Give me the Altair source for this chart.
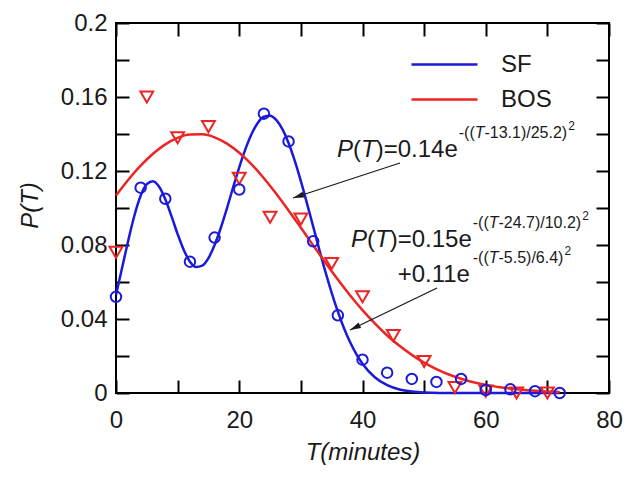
import math
import altair as alt
import pandas as pd

# ---------------- data ----------------
sf_T = [0, 4, 8, 12, 16, 20, 24, 28, 32, 36, 40, 44, 48, 52, 56, 60, 64, 68, 72]
sf_P = [0.052, 0.111, 0.105, 0.071, 0.084, 0.110, 0.151, 0.136, 0.082, 0.042,
        0.018, 0.011, 0.0076, 0.006, 0.0076, 0.0016, 0.002, 0.001, 0.0]

bos_T = [0, 5, 10, 15, 20, 25, 30, 35, 40, 45, 50, 55, 60, 65, 70]
bos_P = [0.076, 0.160, 0.138, 0.144, 0.116, 0.095, 0.094, 0.070, 0.052, 0.031,
         0.017, 0.003, 0.001, 0.0, 0.0]

# fitted curves
sf_fit_T = list(range(0, 41)) + [42, 44, 46, 48, 50, 55, 60, 65, 70, 72]
sf_fit_P = [0.0530, 0.0678, 0.0826, 0.0961, 0.1066, 0.1129, 0.1145, 0.1115, 0.1047, 0.0956,
            0.0859, 0.0773, 0.0710, 0.0681, 0.0688, 0.0729, 0.0800, 0.0892, 0.0998, 0.1111,
            0.1220, 0.1318, 0.1400, 0.1460, 0.1493, 0.1499, 0.1476, 0.1426, 0.1351, 0.1256,
            0.1145, 0.1024, 0.0899, 0.0774, 0.0653, 0.0541, 0.0440, 0.0350, 0.0274, 0.0210,
            0.0158, 0.0085, 0.0042, 0.0019, 0.0008, 0.0003, 0.0, 0.0, 0.0, 0.0, 0.0]
bos_fit_T = list(range(0, 73, 2))
bos_fit_P = [0.1068, 0.1153, 0.1229, 0.1293, 0.1344, 0.1379, 0.1397, 0.1398, 0.1382, 0.1348,
             0.1299, 0.1236, 0.1161, 0.1077, 0.0987, 0.0893, 0.0798, 0.0704, 0.0613, 0.0527,
             0.0448, 0.0376, 0.0311, 0.0255, 0.0206, 0.0164, 0.0129, 0.0100, 0.0077, 0.0058,
             0.0044, 0.0032, 0.0024, 0.0017, 0.0012, 0.0008, 0.0006]

series_names = ["SF", "BOS"]
x_label_values = [0, 20, 40, 60, 80]
x_tick_values = [0, 10, 20, 30, 40, 50, 60, 70, 80]
y_label_values = [0, 0.04, 0.08, 0.12, 0.16, 0.2]
y_tick_values = [0, 0.02, 0.04, 0.06, 0.08, 0.1, 0.12, 0.14, 0.16, 0.18, 0.2]

# ---------------- layout ----------------
W, H = 493, 370
PAD_L, PAD_T, PAD_R, PAD_B = 108, 15, 14, 76
X0, Y0 = 8 + PAD_L, 8 + PAD_T
XMAX, YMAX = 80, 0.2
SX, SY = W / XMAX, H / YMAX
FONT = "Liberation Sans"
BLUE = "#1a1ad8"
RED = "#ec2424"
INK = "#1a1a1a"


def to_T(px):
    return (px - X0) / SX


def to_P(py):
    return (Y0 + H - py) / SY


# annotation formula text, pieces (text, italic)
WT = {'P': 667, '(': 333, ')': 333, 'T': 611, '=': 584, '.': 278, 'e': 556,
      '-': 333, '/': 278, '+': 584}


def tw(s, size):
    return sum(WT.get(c, 556) for c in s) * size / 1000.0


groups = [
    # (start px or None=continue, baseline px, size, gap, pieces)
    (337, 157, 24, 0, [("P", 1), ("(", 0), ("T", 1), (")=0.14e", 0)]),
    (None, 138, 16, 1, [("-((", 0), ("T", 1), ("-13.1)/25.2)", 0)]),
    (None, 130, 12, 1, [("2", 0)]),
    (351, 247, 24, 0, [("P", 1), ("(", 0), ("T", 1), (")=0.15e", 0)]),
    (None, 228, 16, 1, [("-((", 0), ("T", 1), ("-24.7)/10.2)", 0)]),
    (None, 220, 12, 1, [("2", 0)]),
    ("R", 282, 24, 0, [("+0.11e", 0)]),
    (None, 263, 16, 1, [("-((", 0), ("T", 1), ("-5.5)/6.4)", 0)]),
    (None, 255, 12, 1, [("2", 0)]),
]
rows = []
cur = 0
line_end = 0
for start, base, size, gap, pieces in groups:
    if start is None:
        x = cur + gap
    elif start == "R":
        x = line_end - tw("".join(p for p, _ in pieces), size)
    else:
        x = start
    for txt, ital in pieces:
        rows.append({"T": to_T(x), "P": to_P(base), "txt": txt, "size": size, "italic": ital})
        x += tw(txt, size)
    cur = x
    if size == 24:
        line_end = x
ann_text = pd.DataFrame(rows)

arrow_tail_px = [(400, 163), (437, 288)]
arrow_head_px = [(293, 198), (350, 330)]
arr_rows = []
for (tx, ty), (hx, hy) in zip(arrow_tail_px, arrow_head_px):
    ang = math.degrees(math.atan2(ty - hy, tx - hx)) % 360
    arr_rows.append({"T0": to_T(tx), "P0": to_P(ty), "T1": to_T(hx), "P1": to_P(hy), "ang": ang})
arrows = pd.DataFrame(arr_rows)

# ---------------- data frames ----------------
curves = pd.concat([
    pd.DataFrame({"T": sf_fit_T, "P": sf_fit_P, "series": "SF"}),
    pd.DataFrame({"T": bos_fit_T, "P": bos_fit_P, "series": "BOS"}),
])
sf_pts = pd.DataFrame({"T": sf_T, "P": sf_P})
bos_pts = pd.DataFrame({"T": bos_T, "P": bos_P})

xs = alt.Scale(domain=[0, XMAX], nice=False, zero=False)
ys = alt.Scale(domain=[0, YMAX], nice=False, zero=False)

ax_x_labels = alt.Axis(orient="bottom", values=x_label_values, ticks=False, tickSize=0,
                       domain=False, labelPadding=15, labelFlush=False,
                       title="T(minutes)", titleX=W / 2, titleY=66,
                       titleAlign="center", titleBaseline="alphabetic")
ax_x_bottom_ticks = alt.Axis(orient="top", offset=-H, values=x_tick_values, tickSize=13,
                             labels=False, domain=False, title=None)
ax_x_top_ticks = alt.Axis(orient="bottom", offset=-H, values=x_tick_values, tickSize=13,
                          labels=False, domain=False, title=None)
ax_y_labels = alt.Axis(orient="left", values=y_label_values, format=".2~f", ticks=False,
                       tickSize=0, domain=False, labelPadding=9, labelFlush=False,
                       title="P(T)", titleX=-86, titleY=182, titleAngle=270,
                       titleAlign="center", titleBaseline="middle")
ax_y_left_ticks = alt.Axis(orient="right", offset=-W, values=y_tick_values, tickSize=13,
                           labels=False, domain=False, title=None)
ax_y_right_ticks = alt.Axis(orient="left", offset=-W, values=y_tick_values, tickSize=13,
                            labels=False, domain=False, title=None)

lines = alt.Chart(curves).mark_line(strokeWidth=2.5, interpolate="monotone").encode(
    x=alt.X("T:Q", scale=xs, axis=ax_x_labels),
    y=alt.Y("P:Q", scale=ys, axis=ax_y_labels),
    color=alt.Color("series:N",
                    scale=alt.Scale(domain=series_names, range=[BLUE, RED]),
                    legend=alt.Legend(title=None, orient="none", legendX=294, legendY=25,
                                      symbolType="stroke", symbolSize=4356,
                                      symbolStrokeWidth=2.5, labelFontSize=24,
                                      labelFont=FONT, labelColor=INK, labelOffset=22,
                                      clipHeight=33, rowPadding=2, padding=0)),
    detail="series:N",
)

bos_layer = alt.Chart(bos_pts).mark_point(shape="triangle-down", filled=False, strokeWidth=2,
                                           size=165, color=RED, opacity=1).encode(
    x=alt.X("T:Q", scale=xs, axis=ax_x_bottom_ticks),
    y=alt.Y("P:Q", scale=ys, axis=ax_y_left_ticks),
)
sf_layer = alt.Chart(sf_pts).mark_point(shape="circle", filled=False, strokeWidth=2,
                                         size=110, color=BLUE, opacity=1).encode(
    x=alt.X("T:Q", scale=xs, axis=ax_x_top_ticks),
    y=alt.Y("P:Q", scale=ys, axis=ax_y_right_ticks),
)

arrow_lines = alt.Chart(arrows).mark_rule(strokeWidth=1.3, color=INK).encode(
    x=alt.X("T0:Q", scale=xs, axis=None), y=alt.Y("P0:Q", scale=ys, axis=None),
    x2="T1:Q", y2="P1:Q",
)
arrow_heads = alt.Chart(arrows).mark_point(shape="M0,0L2,-0.55L2,0.55Z", filled=True,
                                           size=120, color=INK, opacity=1).encode(
    x=alt.X("T1:Q", scale=xs, axis=None), y=alt.Y("P1:Q", scale=ys, axis=None),
    angle=alt.Angle("ang:Q", scale=None),
)

text_up = alt.Chart(ann_text).transform_filter("datum.italic == 0").mark_text(
    align="left", baseline="alphabetic", font=FONT, color=INK).encode(
    x=alt.X("T:Q", scale=xs, axis=None), y=alt.Y("P:Q", scale=ys, axis=None),
    text="txt:N", size=alt.Size("size:Q", scale=None),
)
text_it = alt.Chart(ann_text).transform_filter("datum.italic == 1").mark_text(
    align="left", baseline="alphabetic", font=FONT, fontStyle="italic", color=INK).encode(
    x=alt.X("T:Q", scale=xs, axis=None), y=alt.Y("P:Q", scale=ys, axis=None),
    text="txt:N", size=alt.Size("size:Q", scale=None),
)

chart = alt.layer(
    lines, bos_layer, sf_layer, arrow_lines, arrow_heads, text_up, text_it
).resolve_axis(x="independent", y="independent").properties(
    width=W, height=H,
    padding={"left": PAD_L, "top": PAD_T, "right": PAD_R, "bottom": PAD_B},
    autosize=alt.AutoSizeParams(type="none"),
).configure_view(stroke="black", strokeWidth=2).configure_axis(
    labelFont=FONT, labelFontSize=24, labelColor=INK, tickColor="black", tickWidth=2,
    grid=False, titleFont=FONT, titleFontSize=24, titleFontStyle="italic",
    titleFontWeight="normal", titleColor=INK,
)

chart.save("out.html", embed_options={"renderer": "svg", "actions": False})
